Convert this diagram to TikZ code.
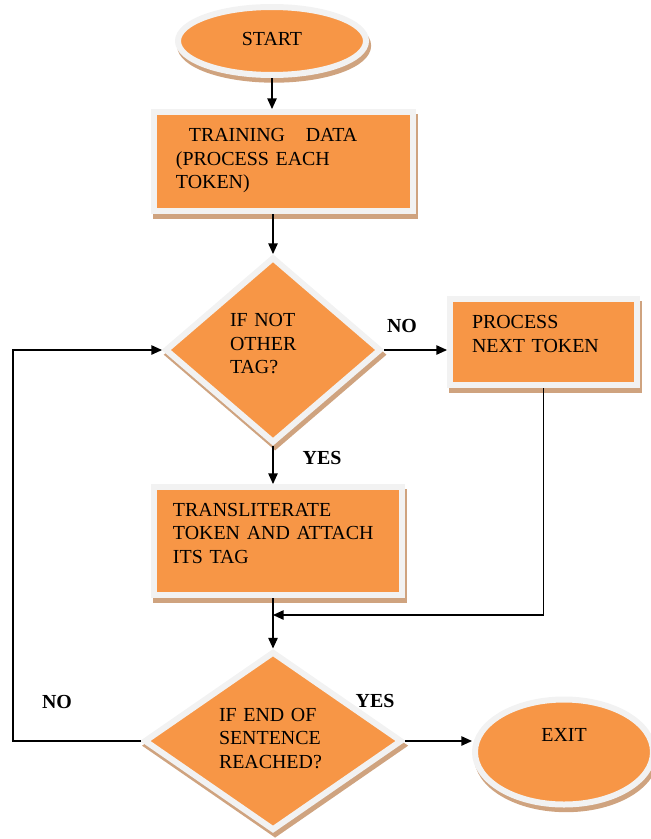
\documentclass[tikz,border=0pt]{standalone}
\usepackage{fontspec}
\setmainfont{Liberation Serif}
\usetikzlibrary{arrows.meta, shapes.geometric, shadows, calc}
\definecolor{boxorange}{HTML}{F79646}
\definecolor{rimgray}{HTML}{F2F2F2}
\definecolor{shadetan}{HTML}{CFA37F}

\tikzset{
  flowshape/.style={fill=boxorange, draw=rimgray, line width=0.18cm, inner sep=0pt,
    align=left, text height=11.25pt, font=\fontsize{17pt}{20pt}\selectfont,
    drop shadow={shadow xshift=1.8pt, shadow yshift=-4pt, fill=shadetan,
      draw=shadetan, line width=0.18cm, opacity=1}},
  block/.style={flowshape, rectangle},
  decision/.style={flowshape, diamond},
  terminal/.style={flowshape, ellipse},
  flow/.style={->, >={Triangle[length=9pt,width=8pt]}, line width=1pt},
  answer/.style={font=\fontsize{17pt}{20pt}\selectfont\bfseries}
}

\begin{document}
\begin{tikzpicture}[x=0.03cm, y=-0.03cm]
  \useasboundingbox (0,0) rectangle (651,839);

  % shapes
  \node[terminal, minimum width=5.64cm, minimum height=2.04cm, text depth=3.4pt] (start) at (272,41) {START};
  \node[block, minimum width=7.77cm, minimum height=2.97cm, text width=6.45cm, text depth=45.1pt] (train) at (283.5,161.5)
    {\hspace*{11pt}TRAINING\hspace{12pt} DATA\\(PROCESS EACH\\TOKEN)};
  \node[decision, minimum width=6.48cm, minimum height=5.58cm, text width=2.58cm, text depth=51pt] (dec1) at (273,350)
    {IF NOT\\OTHER\\TAG?};
  \node[block, minimum width=5.61cm, minimum height=2.58cm, text width=4.29cm, text depth=33.6pt] (proc) at (543.5,342)
    {PROCESS\\NEXT TOKEN};
  \node[block, minimum width=7.44cm, minimum height=3.24cm, text width=6.3cm, text depth=53.6pt] (trans) at (278,541)
    {TRANSLITERATE\\TOKEN AND ATTACH\\ITS TAG};
  \node[decision, minimum width=7.74cm, minimum height=5.37cm, text width=3.24cm, text depth=45.1pt] (dec2) at (273,741)
    {IF END OF\\SENTENCE\\REACHED?};
  \node[terminal, minimum width=5.34cm, minimum height=3.15cm, text depth=28.9pt] (exit) at (564,752) {EXIT};

  % answers
  \node[answer] (no1) at (402,326) {NO};
  \node[answer] (yes1) at (322,458) {YES};
  \node[answer] (no2) at (57,702) {NO};
  \node[answer] (yes2) at (375,701) {YES};

  % connectors
  \coordinate (join) at (273,615);
  \coordinate (loop) at (13,741);
  \draw[flow] (start.south) -- (start.south |- train.north);
  \draw[flow] (train.south -| dec1.north) -- (dec1.north);
  \draw[flow] (dec1.east) -- (dec1.east -| proc.west);
  \draw[flow] (dec1.south) -- (dec1.south |- trans.north);
  \draw[flow] (proc.south) |- (join);
  \draw[flow] (trans.south -| dec2.north) -- (dec2.north);
  \draw[flow] (dec2.west) -- (loop) |- (dec1.west);
  \draw[flow] (dec2.east) -- (dec2.east -| exit.west);
\end{tikzpicture}
\end{document}
